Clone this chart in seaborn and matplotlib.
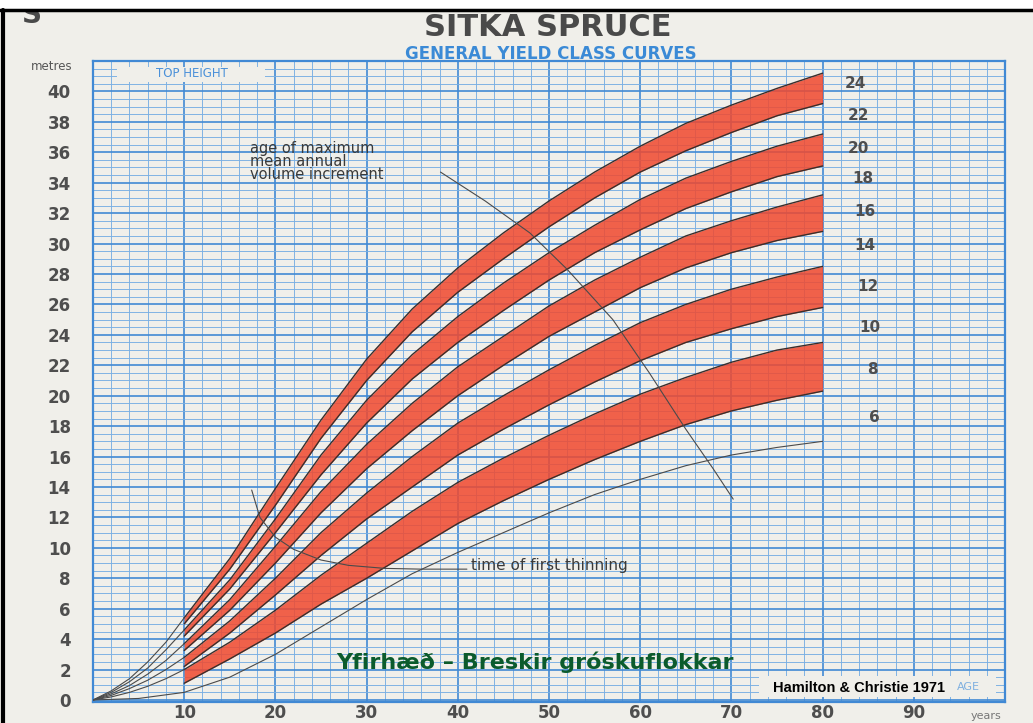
import matplotlib
matplotlib.use("Agg")
import matplotlib.pyplot as plt
import matplotlib.patches as mpatches
from matplotlib.lines import Line2D
import numpy as np
import pandas as pd
import seaborn as sns

# --- data (age in years, top height in metres) ---
ages = [10, 15, 20, 25, 30, 35, 40, 45, 50, 55, 60, 65, 70, 75, 80]
yc24 = [5.4, 9.3, 13.9, 18.4, 22.4, 25.7, 28.4, 30.7, 32.8, 34.7, 36.4, 37.9, 39.1, 40.2, 41.2]
yc22 = [5.0, 8.6, 12.8, 17.2, 21.0, 24.2, 26.8, 29.0, 31.1, 33.0, 34.7, 36.1, 37.3, 38.4, 39.2]
yc20 = [4.6, 7.9, 11.9, 16.1, 19.7, 22.7, 25.2, 27.4, 29.4, 31.2, 32.9, 34.3, 35.4, 36.4, 37.2]
yc18 = [4.2, 7.3, 11.0, 14.8, 18.2, 21.1, 23.5, 25.6, 27.6, 29.4, 30.9, 32.3, 33.4, 34.4, 35.1]
yc16 = [3.7, 6.6, 10.1, 13.7, 16.8, 19.5, 21.9, 23.9, 25.9, 27.6, 29.1, 30.5, 31.5, 32.4, 33.2]
yc14 = [3.25, 5.9, 9.0, 12.3, 15.2, 17.7, 20.0, 22.0, 23.9, 25.5, 27.1, 28.4, 29.4, 30.2, 30.8]
yc12 = [2.8, 5.2, 8.0, 11.0, 13.6, 16.0, 18.2, 20.0, 21.7, 23.3, 24.8, 26.0, 27.0, 27.8, 28.5]
yc10 = [2.2, 4.4, 6.9, 9.5, 11.9, 14.0, 16.1, 17.8, 19.4, 20.9, 22.3, 23.5, 24.4, 25.2, 25.8]
yc8 = [2.0, 3.8, 5.9, 8.2, 10.3, 12.4, 14.3, 15.9, 17.4, 18.8, 20.1, 21.2, 22.2, 23.0, 23.5]
yc6 = [1.1, 2.7, 4.4, 6.3, 8.0, 9.8, 11.6, 13.1, 14.5, 15.8, 17.0, 18.1, 19.0, 19.7, 20.3]

yield_classes = [24, 22, 20, 18, 16, 14, 12, 10, 8, 6]
class_label_x = [83.6, 83.9, 83.9, 84.4, 84.6, 84.6, 85.0, 85.2, 85.5, 85.7]
class_label_y = [40.5, 38.4, 36.25, 34.3, 32.1, 29.9, 27.2, 24.5, 21.7, 18.6]

# thin lead-in curves from the origin to the start of each band
early_ages = [0, 2, 4, 6, 8, 10]
early_24 = [0, 0.6, 1.4, 2.5, 3.8, 5.4]
early_20 = [0, 0.5, 1.2, 2.1, 3.3, 4.6]
early_16 = [0, 0.4, 0.95, 1.7, 2.6, 3.7]
early_12 = [0, 0.3, 0.75, 1.3, 2.0, 2.8]
early_8 = [0, 0.2, 0.5, 0.9, 1.4, 2.0]

# lowest thin curve
low_ages = [0, 5, 10, 15, 20, 25, 30, 35, 40, 45, 50, 55, 60, 65, 70, 75, 80]
low_heights = [0, 0.1, 0.5, 1.5, 3.0, 4.8, 6.6, 8.3, 9.7, 11.0, 12.3, 13.5, 14.5, 15.4, 16.1, 16.6, 17.0]

# time of first thinning curve (ends in a leader to its label)
thin_ages = [17.4, 18.3, 20, 22, 25, 28, 32, 36, 41]
thin_heights = [13.8, 12.0, 10.7, 9.9, 9.2, 8.85, 8.65, 8.6, 8.6]

# age of maximum mean annual volume increment
mai_ages = [38.1, 43, 47.9, 52, 57, 61, 65, 68, 70.2]
mai_heights = [34.7, 32.8, 30.7, 28.3, 25.0, 21.5, 17.8, 15.2, 13.2]

age_ticks = [10, 20, 30, 40, 50, 60, 70, 80, 90]
height_ticks = list(range(0, 41, 2))

# --- styling ---
PAPER = "#f0efea"
GRID_MINOR = "#78afe3"
GRID_MAJOR = "#4189d4"
BAND = "#f04a30"
EDGE = "#3a2e2b"
THIN = "#4a4a4a"
LABEL = "#4e4e4e"

sns.set_theme(style="white")
plt.rcParams["font.family"] = ["DejaVu Sans"]

W, H = 1033, 723
fig = plt.figure(figsize=(W / 100, H / 100), dpi=100, facecolor=PAPER)
ax = fig.add_axes([93 / W, 1 - 701.5 / H, 912 / W, 640.5 / H])
ax.set_facecolor(PAPER)
ax.set_xlim(0, 100)
ax.set_ylim(-0.1, 42)

ax.set_xticks(age_ticks, labels=[str(a) for a in age_ticks],
              fontweight="bold", fontsize=12, color=LABEL)
ax.set_xticks(np.arange(0, 101, 2), minor=True)
ax.set_yticks(height_ticks, labels=[str(h) for h in height_ticks],
              fontweight="bold", fontsize=12, color=LABEL)
ax.set_yticks(np.arange(0, 42.01, 0.5), minor=True)
ax.tick_params(which="both", length=0)
ax.tick_params(axis="x", pad=1.5)
ax.tick_params(axis="y", pad=16)
ax.grid(True, which="minor", color=GRID_MINOR, lw=0.65)
ax.grid(True, which="major", color=GRID_MAJOR, lw=1.2)
ax.set_axisbelow(True)
for s in ax.spines.values():
    s.set_color(GRID_MAJOR)
    s.set_linewidth(1.6)

# red yield class bands
edges = [yc24, yc22, yc20, yc18, yc16, yc14, yc12, yc10, yc8, yc6]
for upper, lower in zip(edges[0::2], edges[1::2]):
    ax.fill_between(ages, lower, upper, color=BAND, alpha=0.86, lw=0, zorder=3)

curves = pd.DataFrame({
    "age": ages * len(edges),
    "height": sum(edges, []),
    "yc": np.repeat(yield_classes, len(ages)),
})
sns.lineplot(data=curves, x="age", y="height", units="yc", estimator=None,
             color=EDGE, lw=1.0, ax=ax, zorder=4, legend=False)

lead = pd.DataFrame({
    "age": early_ages * 5,
    "height": early_24 + early_20 + early_16 + early_12 + early_8,
    "yc": np.repeat([24, 20, 16, 12, 8], len(early_ages)),
})
sns.lineplot(data=lead, x="age", y="height", units="yc", estimator=None,
             color=THIN, lw=0.8, ax=ax, zorder=4, legend=False)
sns.lineplot(x=low_ages, y=low_heights, color=THIN, lw=0.8, ax=ax, zorder=4)
sns.lineplot(x=thin_ages, y=thin_heights, color=THIN, lw=0.8, ax=ax, zorder=4, sort=False)
sns.lineplot(x=mai_ages, y=mai_heights, color=THIN, lw=0.8, ax=ax, zorder=4, sort=False)
ax.set_xlabel("")
ax.set_ylabel("")

for yc, lx, ly in zip(yield_classes, class_label_x, class_label_y):
    ax.text(lx, ly, str(yc), ha="center", va="center", fontsize=11,
            fontweight="bold", color=LABEL, zorder=5)

ax.text(17.2, 35.4, "age of maximum\nmean annual\nvolume increment", fontsize=10.5,
        color="#3a3a3a", ha="left", va="center", linespacing=0.8, zorder=5)
ax.text(41.4, 8.85, "time of first thinning", fontsize=11, color="#3a3a3a",
        ha="left", va="center", zorder=5)

# boxed captions on the grid paper
ax.add_patch(mpatches.Rectangle((2.6, 40.6), 16.3, 1.0, facecolor=PAPER, lw=0, zorder=2))
ax.text(10.8, 41.15, "TOP HEIGHT", fontsize=8.5, color="#4a90d9", ha="center", va="center", zorder=5)
ax.add_patch(mpatches.Rectangle((73.0, 0.2), 26.0, 1.4, facecolor=PAPER, lw=0, zorder=2))
ax.text(96.0, 0.85, "AGE", fontsize=8, color="#7fb0e0", ha="center", va="center", zorder=5)
ax.text(84.0, 0.8, "Hamilton & Christie 1971", fontsize=10.5, fontweight="bold",
        family=["Liberation Sans", "DejaVu Sans"], color="black", ha="center", va="center", zorder=6)
ax.text(48.5, 2.5, "Yfirhæð – Breskir gróskuflokkar", fontsize=16, fontweight="bold",
        color="#0b5b2c", ha="center", va="center", zorder=6)

# page texts
fig.text(548 / W, 1 - 28 / H, "SITKA SPRUCE", fontsize=22, fontweight="bold",
         color="#4a4a4a", ha="center", va="center")
fig.text(551 / W, 1 - 54 / H, "GENERAL YIELD CLASS CURVES", fontsize=12, fontweight="bold",
         color="#3b8ad6", ha="center", va="center")
fig.text(52 / W, 1 - 66 / H, "metres", fontsize=8.5, color="#555555", ha="center", va="center")
fig.text(986 / W, 1 - 716 / H, "years", fontsize=8, color="#777777", ha="center", va="center")

# scan frame: letter half hidden under the border, black border lines
fig.text(32 / W, 1 - 15 / H, "S", fontsize=20, fontweight="bold", color="#4a4a4a",
         ha="center", va="center", zorder=1)
fig.add_artist(mpatches.Rectangle((0, 1 - 9 / H), 1, 9 / H, transform=fig.transFigure,
                                  facecolor="white", lw=0, zorder=2))
fig.add_artist(Line2D([0, 1], [1 - 10 / H] * 2, transform=fig.transFigure,
                      color="black", lw=2.5, zorder=3))
fig.add_artist(Line2D([3 / W] * 2, [0, 1 - 10 / H], transform=fig.transFigure,
                      color="black", lw=3, zorder=3))

fig.savefig("out.png", dpi=100, facecolor=PAPER)
